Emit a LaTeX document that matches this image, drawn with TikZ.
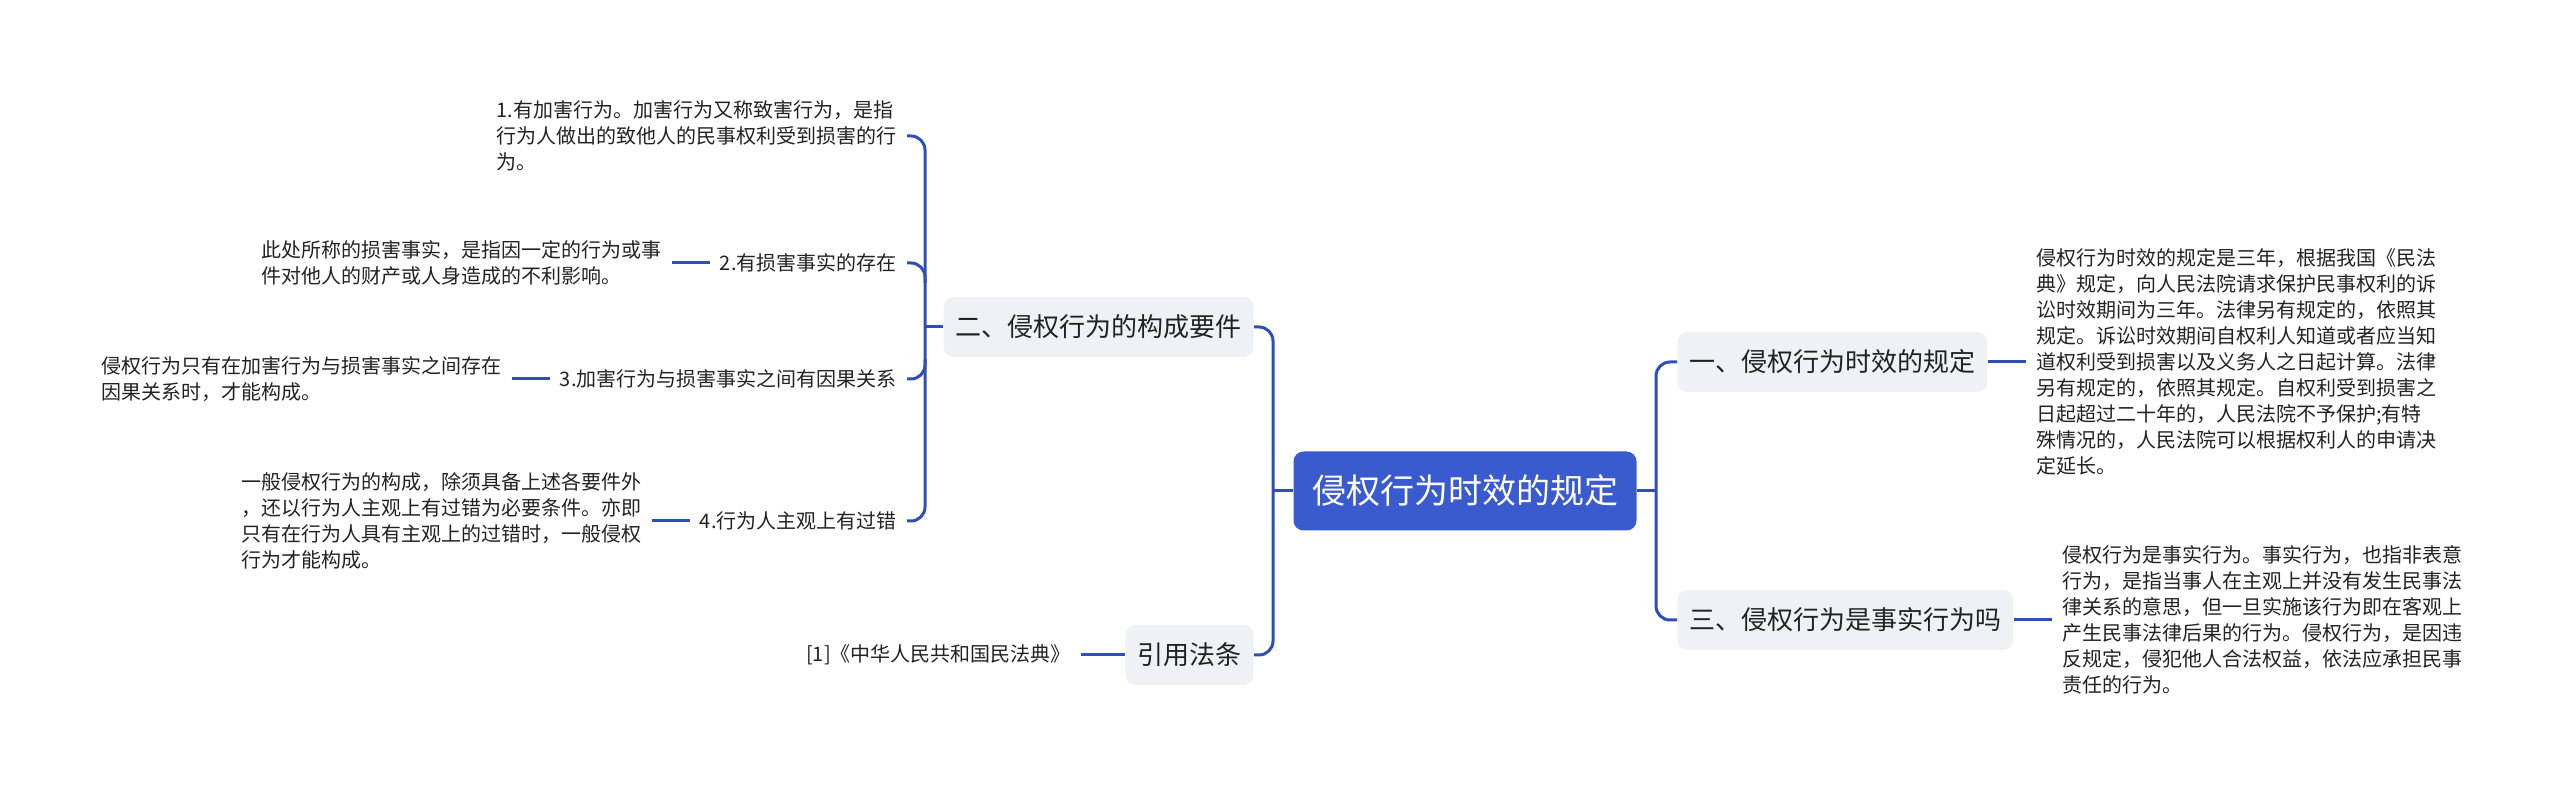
\documentclass[tikz,border=0pt]{standalone}
\usepackage{fontspec}
\setmainfont{Noto Sans CJK SC}
\usetikzlibrary{positioning}
\definecolor{rootblue}{RGB}{58,91,205}
\definecolor{linkblue}{RGB}{47,79,183}
\definecolor{topicgray}{RGB}{239,241,245}
\definecolor{textgray}{RGB}{34,34,34}

\begin{document}
\begin{tikzpicture}[
 x=0.5pt,y=-0.5pt,
 node distance=19pt,
 every node/.style={text=textgray,align=left},
 mainbox/.style={fill=rootblue,text=white,rounded corners=5pt,minimum width=171.5pt,minimum height=39.5pt,font=\fontsize{17}{20}\selectfont},
 topicbox/.style={fill=topicgray,rounded corners=5pt,inner xsep=6pt,minimum height=30pt,font=\fontsize{13}{16}\selectfont},
 itembox/.style={inner sep=5pt,font=\fontsize{10}{13}\selectfont},
 linkline/.style={draw=linkblue,line width=1.5pt,rounded corners=7pt}
]
\useasboundingbox (0,0) rectangle (2560,795);
\node[mainbox] (main) at (1465,491) {侵权行为时效的规定};
\node[topicbox,anchor=east] (gou) at (1254,327) {二、侵权行为的构成要件};
\node[topicbox,anchor=east] (yin) at (1254,655) {引用法条};
\node[topicbox,anchor=west] (shi) at (1677,362) {一、侵权行为时效的规定};
\node[topicbox,anchor=west] (ma) at (1677,620) {三、侵权行为是事实行为吗};
\node[itembox,anchor=east] (y1) at (907,136) {1.有加害行为。加害行为又称致害行为，是指\\行为人做出的致他人的民事权利受到损害的行\\为。};
\node[itembox,anchor=east] (y2) at (907,263) {2.有损害事实的存在};
\node[itembox,anchor=east] (y3) at (907,379) {3.加害行为与损害事实之间有因果关系};
\node[itembox,anchor=east] (y4) at (907,521) {4.行为人主观上有过错};
\node[itembox,left=of y2] (n2) {此处所称的损害事实，是指因一定的行为或事\\件对他人的财产或人身造成的不利影响。};
\node[itembox,left=of y3] (n3) {侵权行为只有在加害行为与损害事实之间存在\\因果关系时，才能构成。};
\node[itembox,left=of y4] (n4) {一般侵权行为的构成，除须具备上述各要件外\\，还以行为人主观上有过错为必要条件。亦即\\只有在行为人具有主观上的过错时，一般侵权\\行为才能构成。};
\node[itembox,left=22pt of yin] (n5) {[1]《中华人民共和国民法典》};
\node[itembox,right=of shi] (n1) {侵权行为时效的规定是三年，根据我国《民法\\典》规定，向人民法院请求保护民事权利的诉\\讼时效期间为三年。法律另有规定的，依照其\\规定。诉讼时效期间自权利人知道或者应当知\\道权利受到损害以及义务人之日起计算。法律\\另有规定的，依照其规定。自权利受到损害之\\日起超过二十年的，人民法院不予保护;有特\\殊情况的，人民法院可以根据权利人的申请决\\定延长。};
\node[itembox,right=of ma] (n6) {侵权行为是事实行为。事实行为，也指非表意\\行为，是指当事人在主观上并没有发生民事法\\律关系的意思，但一旦实施该行为即在客观上\\产生民事法律后果的行为。侵权行为，是因违\\反规定，侵犯他人合法权益，依法应承担民事\\责任的行为。};
\draw[linkline] (main.west) -- ++(-20,0);
\draw[linkline] (gou.east) -- ++(19,0) |- (yin.east);
\draw[linkline] (main.east) -- ++(20,0);
\draw[linkline] (shi.west) -- ++(-21,0) |- (ma.west);
\draw[linkline] (gou.west) -- ++(-18,0);
\draw[linkline] (y1.east) -- ++(18,0) |- (y4.east);
\draw[linkline] (y2.east) -- ++(18,0) -- ++(0,20);
\draw[linkline] (y3.east) -- ++(18,0) -- ++(0,-20);
\draw[linkline] (y2.west) -- (n2.east);
\draw[linkline] (y3.west) -- (n3.east);
\draw[linkline] (y4.west) -- (n4.east);
\draw[linkline] (yin.west) -- (n5.east);
\draw[linkline] (shi.east) -- (n1.west);
\draw[linkline] (ma.east) -- (n6.west);
\end{tikzpicture}
\end{document}
